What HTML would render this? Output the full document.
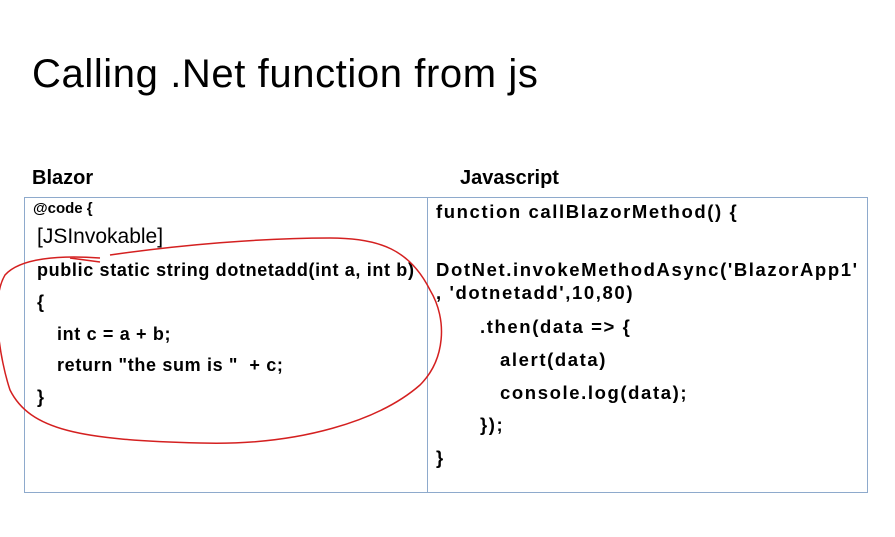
<!DOCTYPE html>
<html><head><style>
body{margin:0;width:895px;height:537px;background:#fff;position:relative;overflow:hidden;font-family:"Liberation Sans",sans-serif;color:#000}
.t{position:absolute;white-space:nowrap}
.b{font-weight:bold}
.c{font-size:18px;font-weight:bold;letter-spacing:0.65px}
.j{font-size:18.5px;font-weight:bold;letter-spacing:1.6px}
</style></head><body>
<div class="t" style="left:32px;top:52px;font-size:40px;letter-spacing:0.6px">Calling .Net function from js</div>
<div class="t b" style="left:32px;top:167px;font-size:20px">Blazor</div>
<div class="t b" style="left:460px;top:167px;font-size:20px">Javascript</div>
<div style="position:absolute;left:24px;top:197px;width:842px;height:294px;border:1.5px solid #8eaacc"></div>
<div style="position:absolute;left:427px;top:197px;width:0;height:295px;border-left:1.5px solid #8eaacc"></div>
<div class="t b" style="left:33px;top:200px;font-size:15px">@code {</div>
<div class="t" style="left:37px;top:225px;font-size:21px">[JSInvokable]</div>
<div class="t c" style="left:37px;top:260px">public static string dotnetadd(int a, int b)</div>
<div class="t c" style="left:37px;top:292px">{</div>
<div class="t c" style="left:57px;top:324px">int c = a + b;</div>
<div class="t c" style="left:57px;top:355px">return "the sum is "&nbsp; + c;</div>
<div class="t c" style="left:37px;top:387px">}</div>
<div class="t j" style="left:436px;top:201px">function callBlazorMethod() {</div>
<div class="t j" style="left:436px;top:259px">DotNet.invokeMethodAsync('BlazorApp1'</div>
<div class="t j" style="left:436px;top:282px">, 'dotnetadd',10,80)</div>
<div class="t j" style="left:480px;top:316px">.then(data =&gt; {</div>
<div class="t j" style="left:500px;top:349px">alert(data)</div>
<div class="t j" style="left:500px;top:382px">console.log(data);</div>
<div class="t j" style="left:480px;top:414px">});</div>
<div class="t j" style="left:436px;top:447px">}</div>
<svg style="position:absolute;left:0;top:0" width="895" height="537">
<path d="M100,258 C60,255 20,258 5,275 C-10,300 0,360 10,390 C30,430 80,440 200,443 C300,446 380,420 420,385 C445,360 448,320 430,290 C410,250 380,238 330,238 C260,238 180,245 110,255 M70,258 L100,262" fill="none" stroke="#d42020" stroke-width="1.5"/>
</svg>
</body></html>
